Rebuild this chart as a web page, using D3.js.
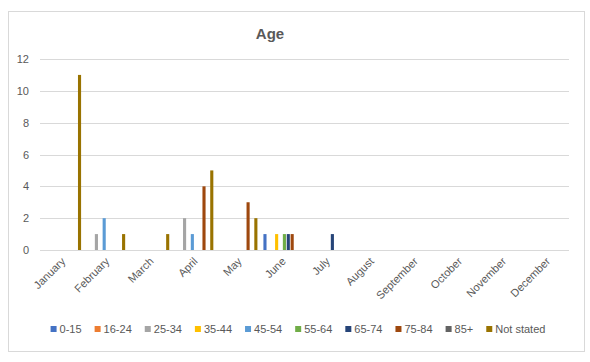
<!DOCTYPE html>
<html>
  <head>
    <meta charset="utf-8">
    <title>Age</title>
    <style>
    body { margin: 0; background: #fff; }
    text { font-family: "Liberation Sans", Arial, sans-serif; }
    </style>
  </head>
  <body>
    <script src="https://d3js.org/d3.v7.min.js"></script>
    <script>
      // Datos del gráfico
      var months = ["January", "February", "March", "April", "May", "June",
                    "July", "August", "September", "October", "November", "December"];
      var groups = ["0-15", "16-24", "25-34", "35-44", "45-54", "55-64",
                    "65-74", "75-84", "85+", "Not stated"];
      var colors = ["#4472C4", "#ED7D31", "#A5A5A5", "#FFC000", "#5B9BD5",
                    "#70AD47", "#264478", "#9E480E", "#636363", "#997300"];
      var yTicks = [0, 2, 4, 6, 8, 10, 12];

      // una fila por grupo de edad, un valor por mes
      var s_0_15      = [0, 0, 0, 0, 0, 1, 0, 0, 0, 0, 0, 0];
      var s_16_24     = [0, 0, 0, 0, 0, 0, 0, 0, 0, 0, 0, 0];
      var s_25_34     = [0, 1, 0, 2, 0, 0, 0, 0, 0, 0, 0, 0];
      var s_35_44     = [0, 0, 0, 0, 0, 1, 0, 0, 0, 0, 0, 0];
      var s_45_54     = [0, 2, 0, 1, 0, 0, 0, 0, 0, 0, 0, 0];
      var s_55_64     = [0, 0, 0, 0, 0, 1, 0, 0, 0, 0, 0, 0];
      var s_65_74     = [0, 0, 0, 0, 0, 1, 1, 0, 0, 0, 0, 0];
      var s_75_84     = [0, 0, 0, 4, 3, 1, 0, 0, 0, 0, 0, 0];
      var s_85        = [0, 0, 0, 0, 0, 0, 0, 0, 0, 0, 0, 0];
      var s_notStated = [11, 1, 1, 5, 2, 0, 0, 0, 0, 0, 0, 0];
      var series = [s_0_15, s_16_24, s_25_34, s_35_44, s_45_54, s_55_64,
                    s_65_74, s_75_84, s_85, s_notStated];

      var width = 590, height = 362;
      var svg = d3.select("body").append("svg")
        .attr("width", width)
        .attr("height", height);

      // marco del gráfico
      svg.append("rect")
        .attr("x", 8.5).attr("y", 11.5)
        .attr("width", 576).attr("height", 340)
        .attr("fill", "#fff")
        .attr("stroke", "#d9d9d9");

      // Escalas
      var x0 = d3.scaleBand().domain(months).range([40, 569]);
      var x1 = d3.scaleBand().domain(groups).range([3, x0.bandwidth() - 3]).paddingInner(0.2);
      var y = d3.scaleLinear().domain([0, 12]).range([250, 59]);

      // rejilla
      svg.append("g").selectAll("line")
        .data(yTicks)
        .enter().append("line")
        .attr("x1", 40).attr("x2", 569)
        .attr("y1", function(d) { return Math.round(y(d)) + 0.5; })
        .attr("y2", function(d) { return Math.round(y(d)) + 0.5; })
        .attr("stroke", "#d9d9d9");

      // etiquetas del eje y
      svg.append("g").selectAll("text")
        .data(yTicks)
        .enter().append("text")
        .attr("x", 29)
        .attr("y", function(d) { return y(d) + 4; })
        .attr("text-anchor", "end")
        .attr("font-size", "11px")
        .attr("fill", "#595959")
        .text(function(d) { return d; });

      // barras
      var flat = [];
      series.forEach(function(vals, i) {
        vals.forEach(function(v, m) {
          if (v > 0) flat.push({ g: groups[i], m: months[m], v: v, c: colors[i] });
        });
      });
      svg.append("g").selectAll("rect")
        .data(flat)
        .enter().append("rect")
        .attr("x", function(d) { return x0(d.m) + x1(d.g); })
        .attr("y", function(d) { return y(d.v); })
        .attr("width", x1.bandwidth())
        .attr("height", function(d) { return y(0) - y(d.v); })
        .attr("fill", function(d) { return d.c; });

      // etiquetas de meses giradas
      svg.append("g").selectAll("text")
        .data(months)
        .enter().append("text")
        .attr("transform", function(d) {
          return "translate(" + (x0(d) + x0.bandwidth() / 2 + 4) + ",262) rotate(-45)";
        })
        .attr("text-anchor", "end")
        .attr("font-size", "11px")
        .attr("fill", "#595959")
        .text(function(d) { return d; });

      // título
      svg.append("text")
        .attr("x", 270).attr("y", 39)
        .attr("text-anchor", "middle")
        .attr("font-size", "15px")
        .attr("font-weight", "bold")
        .attr("fill", "#595959")
        .text("Age");

      // leyenda
      var legend = svg.append("g");
      var lx = 0, gap = 13;
      groups.forEach(function(g, i) {
        var item = legend.append("g").attr("transform", "translate(" + lx + ",0)");
        item.append("rect")
          .attr("x", 0).attr("y", -7)
          .attr("width", 6).attr("height", 6)
          .attr("fill", colors[i]);
        var t = item.append("text")
          .attr("x", 9).attr("y", 0)
          .attr("font-size", "11px")
          .attr("fill", "#595959")
          .text(g);
        lx += 9 + t.node().getComputedTextLength() + gap;
      });
      var lw = lx - gap;
      legend.attr("transform", "translate(" + (298 - lw / 2) + ",333)");
    </script>
  </body>
</html>
